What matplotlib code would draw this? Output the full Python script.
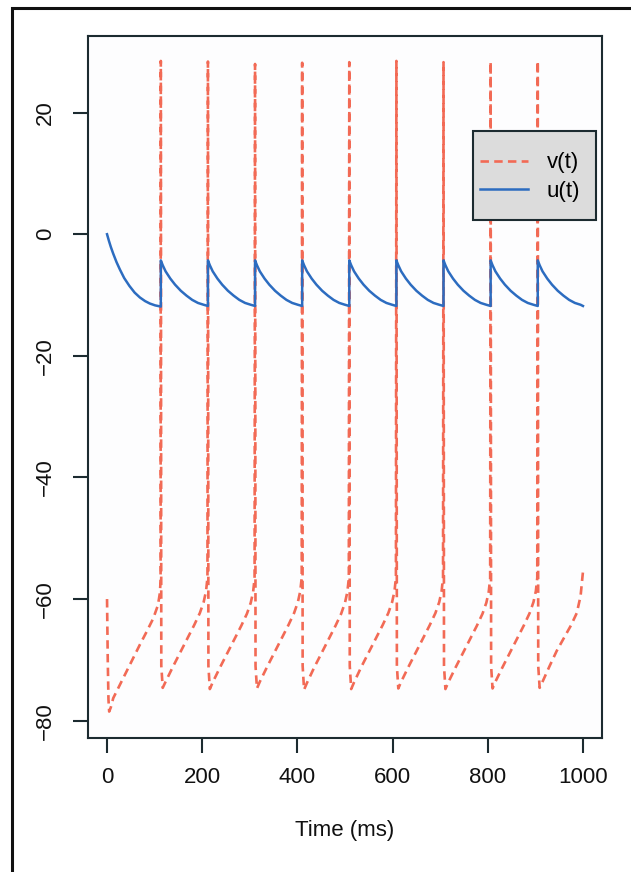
import matplotlib
matplotlib.use("Agg")
import matplotlib.pyplot as plt
from matplotlib.patches import Rectangle
from matplotlib.lines import Line2D

plt.rcParams['font.family'] = ['Liberation Sans', 'DejaVu Sans']

# ---- data ----
spike_times = [113, 212, 311, 410, 509, 608, 707, 806, 905]

t_v = [0, 1.5, 3, 4.5, 8, 13, 27, 41, 55, 69, 83, 97, 107, 111, 112.5, 113,
       114, 117, 123, 138, 153, 168, 183, 195, 203, 208, 211, 212,
       213, 216, 222, 237, 252, 267, 282, 294, 302, 307, 310, 311,
       312, 315, 321, 336, 351, 366, 381, 393, 401, 406, 409, 410,
       411, 414, 420, 435, 450, 465, 480, 492, 500, 505, 508, 509,
       510, 513, 519, 534, 549, 564, 579, 591, 599, 604, 607, 608,
       609, 612, 618, 633, 648, 663, 678, 690, 698, 703, 706, 707,
       708, 711, 717, 732, 747, 762, 777, 789, 797, 802, 805, 806,
       807, 810, 816, 831, 846, 861, 876, 888, 896, 901, 904, 905,
       906, 909, 915, 930, 945, 960, 975, 987, 995, 1000]
v = [-60, -70, -76.5, -78.5, -77.8, -76.3, -74.1, -71.9, -69.7, -67.5, -65.4, -63.2, -61.0, -59.0, -57.0, 28.5,
     -71, -74.6, -73.6, -71.2, -68.9, -66.6, -64.3, -62.3, -60.5, -58.7, -56.5, 28.4,
     -71, -74.8, -73.7, -71.3, -69.0, -66.7, -64.4, -62.4, -60.6, -58.8, -56.6, 28.0,
     -71, -74.7, -73.6, -71.2, -68.9, -66.6, -64.3, -62.3, -60.5, -58.7, -56.5, 28.2,
     -71, -74.9, -73.8, -71.3, -69.0, -66.7, -64.4, -62.4, -60.6, -58.8, -56.6, 28.3,
     -71, -74.8, -73.7, -71.2, -68.9, -66.6, -64.3, -62.3, -60.5, -58.7, -56.5, 28.5,
     -71, -74.7, -73.6, -71.2, -68.9, -66.6, -64.3, -62.3, -60.5, -58.7, -56.5, 28.3,
     -71, -74.8, -73.7, -71.3, -69.0, -66.7, -64.4, -62.4, -60.6, -58.8, -56.6, 28.4,
     -71, -74.7, -73.6, -71.2, -68.9, -66.6, -64.3, -62.3, -60.5, -58.7, -56.5, 28.5,
     -71, -74.6, -73.6, -71.0, -68.5, -66.4, -64.3, -62.3, -59.5, -55.5]

t_u = [0, 4, 8, 13, 20, 27, 36, 47, 58, 69, 80, 90, 101, 113,
       113, 117, 123, 133, 143, 155, 167, 179, 191, 203, 212,
       212, 216, 222, 232, 242, 254, 266, 278, 290, 302, 311,
       311, 315, 321, 331, 341, 353, 365, 377, 389, 401, 410,
       410, 414, 420, 430, 440, 452, 464, 476, 488, 500, 509,
       509, 513, 519, 529, 539, 551, 563, 575, 587, 599, 608,
       608, 612, 618, 628, 638, 650, 662, 674, 686, 698, 707,
       707, 711, 717, 727, 737, 749, 761, 773, 785, 797, 806,
       806, 810, 816, 826, 836, 848, 860, 872, 884, 896, 905,
       905, 909, 915, 925, 935, 947, 959, 971, 983, 995, 1000]
u = [0, -1.1, -2.1, -3.2, -4.6, -5.8, -7.2, -8.5, -9.6, -10.4, -11.0, -11.4, -11.7, -11.9,
     -4.3, -5.1, -6.1, -7.3, -8.3, -9.3, -10.1, -10.8, -11.3, -11.6, -11.8,
     -4.3, -5.1, -6.1, -7.3, -8.3, -9.3, -10.1, -10.8, -11.3, -11.6, -11.8,
     -4.3, -5.1, -6.1, -7.3, -8.3, -9.3, -10.1, -10.8, -11.3, -11.6, -11.8,
     -4.3, -5.1, -6.1, -7.3, -8.3, -9.3, -10.1, -10.8, -11.3, -11.6, -11.8,
     -4.3, -5.1, -6.1, -7.3, -8.3, -9.3, -10.1, -10.8, -11.3, -11.6, -11.8,
     -4.3, -5.1, -6.1, -7.3, -8.3, -9.3, -10.1, -10.8, -11.3, -11.6, -11.8,
     -4.3, -5.1, -6.1, -7.3, -8.3, -9.3, -10.1, -10.8, -11.3, -11.6, -11.8,
     -4.3, -5.1, -6.1, -7.3, -8.3, -9.3, -10.1, -10.8, -11.3, -11.6, -11.8,
     -4.3, -5.1, -6.1, -7.3, -8.3, -9.3, -10.1, -10.8, -11.3, -11.6, -11.8]

x_ticks = [0, 200, 400, 600, 800, 1000]
y_ticks = [-80, -60, -40, -20, 0, 20]
legend_labels = ["v(t)", "u(t)"]
x_label = "Time (ms)"

V_COLOR = '#f26a55'
U_COLOR = '#2c6cc0'
AX_COLOR = '#1c2b30'

W, H = 631, 872
fig = plt.figure(figsize=(W / 100, H / 100), dpi=100)
fig.patch.set_facecolor('white')

# outer border (cut by the image edge on the right and bottom)
fig.add_artist(Rectangle((12 / W, -0.05), 1.0, 1 - 8 / H + 0.05,
                         transform=fig.transFigure, fill=False,
                         edgecolor='#111111', lw=2.2))

ax = fig.add_axes([88 / W, 1 - 738 / H, (602 - 88) / W, (738 - 36) / H])
ax.set_facecolor('#fdfdfe')

ax.plot(t_v, v, color=V_COLOR, lw=1.9, dashes=(3.2, 2.0), zorder=2)
ax.plot(t_u, u, color=U_COLOR, lw=1.8, zorder=3)

ax.set_xlim(-40, 1040)
ax.set_ylim(-82.85, 32.6)
ax.set_xticks(x_ticks)
ax.set_yticks(y_ticks)
ax.set_yticklabels([str(y).replace('-', '\u2212') for y in y_ticks],
                   rotation=90, va='center')

for s in ax.spines.values():
    s.set_color(AX_COLOR)
    s.set_linewidth(1.5)
ax.tick_params(axis='both', colors=AX_COLOR, width=1.5, length=10.8,
               labelsize=16, labelcolor='#111111')
ax.tick_params(axis='x', pad=10)
ax.tick_params(axis='y', pad=12)

ax.set_xlabel(x_label, fontsize=16, color='#111111')
ax.xaxis.set_label_coords(0.5, -0.117)

# legend box
bx0, by0 = (472.7 - 88) / 514, (738 - 220) / 702
bw, bh = (596 - 472.7) / 514, (220 - 131) / 702
ax.add_patch(Rectangle((bx0, by0), bw, bh, transform=ax.transAxes,
                       facecolor='#dcdcdc', edgecolor=AX_COLOR, lw=1.5, zorder=4))
handles = [Line2D([], [], color=V_COLOR, lw=1.9, dashes=(3.2, 2.0)),
           Line2D([], [], color=U_COLOR, lw=1.8)]
leg = ax.legend(handles, legend_labels, loc='upper left',
                bbox_to_anchor=(bx0 + 0.001, by0 + bh - 0.021), frameon=False,
                fontsize=16, handlelength=2.15, handletextpad=0.85,
                labelspacing=0.34, borderpad=0.3, borderaxespad=0)
leg.set_zorder(5)

fig.savefig('out.png', dpi=100)
